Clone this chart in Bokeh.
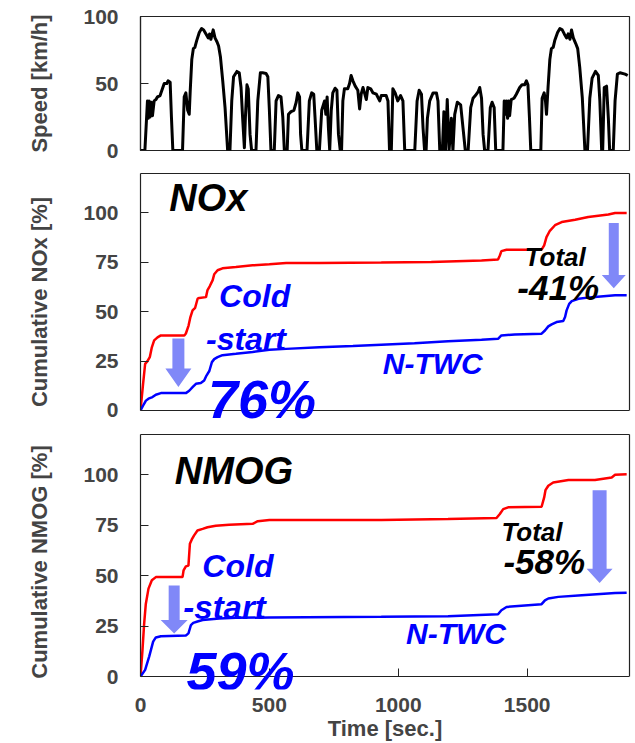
from bokeh.plotting import figure
from bokeh.layouts import column
from bokeh.models import Range1d, Label, FixedTicker, LinearAxis
from bokeh.embed import file_html
from bokeh.resources import INLINE

# ---------------- data ----------------
speed_t = [0, 17, 27, 30, 33.5, 37, 42.5, 46.5, 53, 59.5, 66, 76, 85, 92, 102, 107, 115, 120, 125.5,
           163, 169.6, 176, 183, 189, 193, 199, 205, 211, 218, 228, 237, 245, 254, 263, 268, 273, 282, 289,
           297, 303, 310, 319, 328, 338,
           347, 354, 361, 374, 383, 390, 396, 403, 407, 413, 418, 425, 431,
           448, 455, 465, 474, 487, 494, 500, 506,
           519, 526, 535, 545, 552, 558,
           569, 574, 584, 595, 604, 610, 617, 621, 626,
           646, 655, 664, 672, 677, 684,
           694, 703, 714, 719, 724, 729, 734,
           740, 746, 755, 762, 768, 775,
           780, 785, 791, 804, 811, 817, 824, 833, 843, 850, 856, 863, 869, 876, 882, 893, 902, 915, 928,
           934, 953, 960, 966,
           973, 979, 988, 998, 1009, 1018, 1025,
           1064, 1073, 1081, 1090, 1096, 1102,
           1108, 1113, 1122, 1135, 1148, 1154, 1161,
           1171, 1177, 1183, 1190, 1197, 1206, 1212,
           1219, 1229, 1242, 1251, 1260,
           1271, 1281, 1290, 1299, 1310, 1316, 1323, 1329, 1335,
           1348, 1357, 1364, 1372, 1378,
           1406, 1411, 1416, 1420, 1424, 1428, 1432, 1438, 1449, 1458, 1471, 1480, 1490, 1497, 1503, 1509, 1514,
           1553, 1558, 1566, 1571, 1575, 1581, 1588, 1594, 1601, 1607, 1618, 1627, 1636, 1644, 1653, 1659,
           1666, 1672, 1679, 1688, 1696, 1704, 1714, 1724,
           1734, 1743, 1752, 1765, 1776, 1782, 1789, 1793, 1799, 1808, 1815, 1820,
           1834, 1841, 1850, 1860, 1880, 1890]
speed_v = [0, 0, 37, 24, 37, 25, 36, 26, 37, 38, 40, 41, 46, 50, 50, 52, 51, 25, 0,
           0, 40, 43, 30, 27, 45, 68, 76, 77, 82, 88, 91, 90, 87, 84, 87, 83, 90, 84,
           81, 78, 70, 52, 32, 0,
           0, 37, 55, 59, 58, 47, 25, 2, 25, 49, 46, 12, 0,
           0, 37, 58, 58, 57.5, 55, 30, 0,
           0, 37, 41, 40, 25, 0,
           0, 27, 29, 30, 36, 43, 40, 12, 0,
           0, 37, 43, 42, 25, 0,
           0, 30, 37, 27, 40, 17, 0,
           30, 43, 46.5, 45, 12, 0,
           0, 37, 46, 46, 50, 56, 52, 48, 45, 31, 42, 47, 43, 38, 47, 46, 43, 42, 37,
           41, 41, 37, 0,
           0, 46, 43, 37, 41, 37, 0,
           0, 37, 45, 42, 17, 0,
           0, 24, 37, 43, 43, 37, 0,
           0, 29, 0, 38, 0, 24, 0,
           27, 36, 34, 17, 0,
           0, 32, 39, 41, 44, 47, 39, 12, 0,
           0, 32, 36, 32, 0,
           0, 37, 27, 37, 24, 37, 26, 38, 39, 42, 47, 49, 49, 52, 49, 24, 0,
           0, 39, 43, 37, 27, 47, 68, 76, 77, 82, 88, 91, 90, 87, 84, 87,
           83, 90, 84, 80, 76, 62, 39, 0,
           0, 39, 54, 59, 56, 37, 0, 0, 47, 48, 24, 0,
           0, 37, 57, 58, 57, 56]

nox_base_t = [0, 10, 18, 27, 36, 44, 53, 66, 79, 124, 170, 176, 186.5, 193, 202, 212, 221.5, 228, 254, 260,
              269, 280, 286, 299, 318, 370, 435, 500, 565, 694, 934, 1128, 1323, 1387, 1394, 1400, 1420,
              1478, 1556, 1566, 1575, 1588, 1608, 1634, 1686, 1737, 1815, 1841, 1886]
nox_base_v = [0, 13.5, 23.6, 25, 27, 32, 35.5, 37, 38, 38, 38, 39, 43, 47, 50.7, 52, 56.6, 57, 57.4, 61,
              63, 66, 69, 71, 72, 72.6, 73.5, 74, 74.7, 74.7, 74.9, 75.2, 76, 76.4, 78.5, 80.7, 81.4,
              81.4, 81.4, 83.6, 87.8, 91, 93.8, 95.4, 96.6, 98, 99.2, 100, 100]

nox_ntwc_t = [0, 14, 21, 31, 46.5, 59.5, 79, 176, 189, 202, 215, 234, 247, 256, 267, 277, 286, 299, 318,
              370, 435, 500, 565, 694, 824, 934, 1063, 1193, 1323, 1387, 1400, 1452, 1556, 1569, 1582,
              1595, 1614, 1640, 1647, 1653, 1663, 1673, 1699, 1751, 1841, 1886]
nox_ntwc_v = [0, 3.4, 5, 6, 6.8, 8, 8.8, 8.8, 10, 11.8, 13.5, 13.9, 15.2, 17.7, 20, 24.5, 26, 27, 28,
              28.7, 29.6, 30.7, 31.2, 32, 32.6, 33.3, 34, 35, 35.8, 36.3, 38, 38.5, 38.9, 40.5, 42.6,
              43.6, 44.8, 45.3, 47.3, 50.7, 54, 55.4, 56.6, 57.4, 58.3, 58.3]

nmog_base_t = [0, 7.6, 14, 20.6, 31, 44, 59.5, 163, 167, 176, 186, 191.6, 199, 208, 221, 241, 260, 292,
               344, 435, 455, 500, 934, 1193, 1381, 1394, 1407, 1426, 1556, 1566, 1571, 1582, 1601,
               1660, 1763, 1828, 1841, 1886]
nmog_base_v = [0, 13, 26, 36, 43.6, 47.7, 49.3, 49.3, 52.6, 54.6, 55, 65.8, 68, 70, 72.4, 73.2, 74, 74.8,
               75.3, 75.7, 77, 77.6, 77.6, 78.1, 78.6, 80.6, 83, 83.9, 84.2, 88.8, 92.4, 94.6, 96.2,
               97.4, 97.4, 98.7, 100, 100.3]

nmog_ntwc_t = [0, 18, 33.6, 49, 59.5, 79, 176, 186, 195.5, 204.6, 221, 241, 306, 370, 500, 934, 1193,
               1387, 1400, 1420, 1556, 1569, 1582, 1621, 1712, 1841, 1886]
nmog_ntwc_v = [0, 3.3, 9.9, 17.3, 19.4, 20, 20.4, 21.4, 25.5, 26.6, 27.3, 28, 28.8, 29.1, 29.3, 29.6,
               29.9, 30.9, 32.9, 34.5, 35.9, 37.8, 38.7, 39.5, 40.3, 41.4, 41.6]

x_ticks = [0, 500, 1000, 1500]
speed_ticks = [0, 50, 100]
cum_ticks = [0, 25, 50, 75, 100]

# ---------------- styling ----------------
FONT = "Liberation Sans"
RED = "#FF0000"
BLUE = "#0000FF"
ARROW = "#8088F8"
EDGE = "#222222"
X_MAX = 1897
FRAME_W = 489
PX_PER_SEC = FRAME_W / X_MAX
Y_TOP = 120

x_range = Range1d(0, X_MAX)


def make_fig(height, y_lo, y_max, ticks, ylabel, top, bottom, show_x):
    p = figure(width=632, height=height, x_range=x_range, y_range=Range1d(y_lo, y_max),
               output_backend="svg", toolbar_location=None, title=None,
               min_border_left=140, min_border_right=3, min_border_top=top, min_border_bottom=bottom)
    p.outline_line_color = EDGE
    p.outline_line_width = 1.2
    p.xgrid.visible = False
    p.ygrid.visible = False
    p.background_fill_color = "white"
    p.border_fill_color = "white"
    ax = p.yaxis[0]
    ax.ticker = FixedTicker(ticks=ticks)
    ax.axis_label = ylabel
    ax.axis_label_text_font = FONT
    ax.axis_label_text_font_size = "22px"
    ax.axis_label_text_font_style = "bold"
    ax.axis_label_standoff = 28
    ax.major_label_text_font = FONT
    ax.major_label_text_font_size = "21px"
    ax.major_label_text_font_style = "bold"
    ax.major_label_standoff = 22
    ax.major_tick_in = 8
    ax.major_tick_out = 0
    ax.minor_tick_line_color = None
    ax.axis_line_color = EDGE
    ax.axis_line_width = 1.2
    ax.major_tick_line_color = EDGE
    xa = p.xaxis[0]
    if show_x:
        xa.ticker = FixedTicker(ticks=x_ticks)
        xa.axis_label = "Time [sec.]"
        xa.axis_label_text_font = FONT
        xa.axis_label_text_font_size = "22px"
        xa.axis_label_text_font_style = "bold"
        xa.axis_label_standoff = 1
        xa.major_label_text_font = FONT
        xa.major_label_text_font_size = "21px"
        xa.major_label_text_font_style = "bold"
        xa.major_label_standoff = 2
        xa.major_tick_line_color = None
        xa.minor_tick_line_color = None
        xa.axis_line_color = None
    else:
        xa.visible = False
    return p


def edge_axis(**kw):
    return LinearAxis(axis_line_color=EDGE, axis_line_width=1.2,
                      minor_tick_line_color=None, major_tick_out=0,
                      major_label_standoff=0, axis_label_standoff=0, **kw)


def open_box(p, bottom_ticks):
    """Frame drawn by axes so that the area below y=0 stays open (text may overhang)."""
    p.outline_line_color = None
    p.yaxis[0].bounds = (0, Y_TOP)
    p.add_layout(edge_axis(bounds=(0, Y_TOP), ticker=FixedTicker(ticks=[]),
                           major_tick_in=0, major_tick_line_color=None), "right")
    p.add_layout(edge_axis(ticker=FixedTicker(ticks=[]),
                           major_tick_in=0, major_tick_line_color=None), "above")
    p.add_layout(edge_axis(fixed_location=0, ticker=FixedTicker(ticks=bottom_ticks),
                           major_tick_in=8, major_tick_line_color=EDGE,
                           major_label_text_font_size="0px",
                           major_label_overrides={t: "" for t in bottom_ticks}), "below")


def label(p, x, y, text, size, color):
    p.add_layout(Label(x=x, y=y, text=text, text_font=FONT, text_font_size=size,
                       text_font_style="bold italic", text_color=color,
                       text_baseline="middle", text_align="left"))


def block_arrow(p, cx, top, neck, tip, shaft_px, head_px):
    sx = shaft_px / 2 / PX_PER_SEC
    hx = head_px / 2 / PX_PER_SEC
    xs = [cx - sx, cx + sx, cx + sx, cx + hx, cx, cx - hx, cx - sx]
    ys = [top, top, neck, neck, tip, neck, neck]
    p.patch(xs, ys, fill_color=ARROW, line_color=None)


# ---- speed panel ----
p1 = make_fig(162, 0, 100, speed_ticks, "Speed [km/h]", 16, 12, False)
p1.line(speed_t, speed_v, line_width=3, color="black", line_join="round")

# ---- NOx panel ----
p2 = make_fig(268, -10.13, Y_TOP, cum_ticks, "Cumulative NOx [%]", 11, 0, False)
open_box(p2, [])
block_arrow(p2, 147, 36.5, 21.2, 11.9, 12, 26)
block_arrow(p2, 1836, 94.9, 68.6, 61.9, 10, 24)
p2.line(nox_base_t, nox_base_v, line_width=2.5, color=RED)
p2.line(nox_ntwc_t, nox_ntwc_v, line_width=2.5, color=BLUE)
label(p2, 112, 107.5, "NOx", "38px", "black")
label(p2, 305, 58.2, "Cold", "32px", BLUE)
label(p2, 254, 36.2, "-start", "32px", BLUE)
label(p2, 262, 5.6, "76%", "54px", BLUE)
label(p2, 940, 23.9, "N-TWC", "30px", BLUE)
label(p2, 1490, 77.5, "Total", "26px", "black")
label(p2, 1462, 62.1, "-41%", "35px", "black")

# ---- NMOG panel ----
p3 = make_fig(313, -6.42, Y_TOP, cum_ticks, "Cumulative NMOG [%]", 4, 53, True)
open_box(p3, x_ticks)
block_arrow(p3, 130.6, 45.2, 28, 21.4, 11, 27)
block_arrow(p3, 1781, 92.4, 53.5, 46.4, 14, 26)
p3.line(nmog_base_t, nmog_base_v, line_width=2.5, color=RED)
p3.line(nmog_ntwc_t, nmog_ntwc_v, line_width=2.5, color=BLUE)
label(p3, 133, 101.8, "NMOG", "38px", "black")
label(p3, 240, 54.8, "Cold", "32px", BLUE)
label(p3, 166, 34.3, "-start", "33px", BLUE)
label(p3, 178, 2.7, "59%", "54px", BLUE)
label(p3, 1030, 21.5, "N-TWC", "30px", BLUE)
label(p3, 1400, 71.8, "Total", "26px", "black")
label(p3, 1408, 57, "-58%", "35px", "black")

layout = column(p1, p2, p3, spacing=0)
open("out.html", "w").write(file_html(layout, INLINE))
